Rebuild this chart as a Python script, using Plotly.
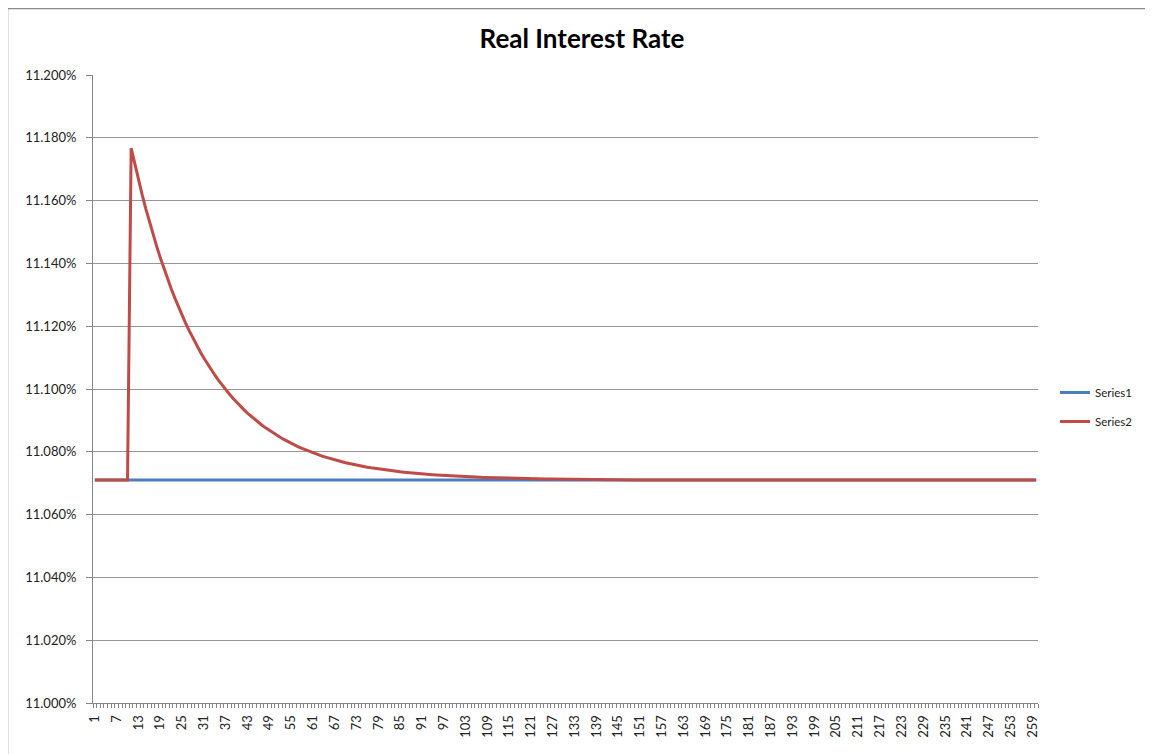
import plotly.graph_objects as go

# ---- data (percent) ----
periods = list(range(1, 261))

series1 = [
    11.0710, 11.0710, 11.0710, 11.0710, 11.0710, 11.0710, 11.0710, 11.0710, 11.0710, 11.0710,
    11.0710, 11.0710, 11.0710, 11.0710, 11.0710, 11.0710, 11.0710, 11.0710, 11.0710, 11.0710,
    11.0710, 11.0710, 11.0710, 11.0710, 11.0710, 11.0710, 11.0710, 11.0710, 11.0710, 11.0710,
    11.0710, 11.0710, 11.0710, 11.0710, 11.0710, 11.0710, 11.0710, 11.0710, 11.0710, 11.0710,
    11.0710, 11.0710, 11.0710, 11.0710, 11.0710, 11.0710, 11.0710, 11.0710, 11.0710, 11.0710,
    11.0710, 11.0710, 11.0710, 11.0710, 11.0710, 11.0710, 11.0710, 11.0710, 11.0710, 11.0710,
    11.0710, 11.0710, 11.0710, 11.0710, 11.0710, 11.0710, 11.0710, 11.0710, 11.0710, 11.0710,
    11.0710, 11.0710, 11.0710, 11.0710, 11.0710, 11.0710, 11.0710, 11.0710, 11.0710, 11.0710,
    11.0710, 11.0710, 11.0710, 11.0710, 11.0710, 11.0710, 11.0710, 11.0710, 11.0710, 11.0710,
    11.0710, 11.0710, 11.0710, 11.0710, 11.0710, 11.0710, 11.0710, 11.0710, 11.0710, 11.0710,
    11.0710, 11.0710, 11.0710, 11.0710, 11.0710, 11.0710, 11.0710, 11.0710, 11.0710, 11.0710,
    11.0710, 11.0710, 11.0710, 11.0710, 11.0710, 11.0710, 11.0710, 11.0710, 11.0710, 11.0710,
    11.0710, 11.0710, 11.0710, 11.0710, 11.0710, 11.0710, 11.0710, 11.0710, 11.0710, 11.0710,
    11.0710, 11.0710, 11.0710, 11.0710, 11.0710, 11.0710, 11.0710, 11.0710, 11.0710, 11.0710,
    11.0710, 11.0710, 11.0710, 11.0710, 11.0710, 11.0710, 11.0710, 11.0710, 11.0710, 11.0710,
    11.0710, 11.0710, 11.0710, 11.0710, 11.0710, 11.0710, 11.0710, 11.0710, 11.0710, 11.0710,
    11.0710, 11.0710, 11.0710, 11.0710, 11.0710, 11.0710, 11.0710, 11.0710, 11.0710, 11.0710,
    11.0710, 11.0710, 11.0710, 11.0710, 11.0710, 11.0710, 11.0710, 11.0710, 11.0710, 11.0710,
    11.0710, 11.0710, 11.0710, 11.0710, 11.0710, 11.0710, 11.0710, 11.0710, 11.0710, 11.0710,
    11.0710, 11.0710, 11.0710, 11.0710, 11.0710, 11.0710, 11.0710, 11.0710, 11.0710, 11.0710,
    11.0710, 11.0710, 11.0710, 11.0710, 11.0710, 11.0710, 11.0710, 11.0710, 11.0710, 11.0710,
    11.0710, 11.0710, 11.0710, 11.0710, 11.0710, 11.0710, 11.0710, 11.0710, 11.0710, 11.0710,
    11.0710, 11.0710, 11.0710, 11.0710, 11.0710, 11.0710, 11.0710, 11.0710, 11.0710, 11.0710,
    11.0710, 11.0710, 11.0710, 11.0710, 11.0710, 11.0710, 11.0710, 11.0710, 11.0710, 11.0710,
    11.0710, 11.0710, 11.0710, 11.0710, 11.0710, 11.0710, 11.0710, 11.0710, 11.0710, 11.0710,
    11.0710, 11.0710, 11.0710, 11.0710, 11.0710, 11.0710, 11.0710, 11.0710, 11.0710, 11.0710,
]

series2 = [
    11.07100, 11.07100, 11.07100, 11.07100, 11.07100, 11.07100, 11.07100, 11.07100, 11.07100, 11.07100,
    11.17670, 11.17154, 11.16664, 11.16198, 11.15754, 11.15332, 11.14930, 11.14549, 11.14185, 11.13840,
    11.13511, 11.13198, 11.12901, 11.12618, 11.12349, 11.12093, 11.11849, 11.11618, 11.11397, 11.11188,
    11.10989, 11.10799, 11.10618, 11.10447, 11.10284, 11.10128, 11.09981, 11.09840, 11.09707, 11.09579,
    11.09458, 11.09343, 11.09234, 11.09130, 11.09031, 11.08937, 11.08847, 11.08762, 11.08681, 11.08604,
    11.08531, 11.08461, 11.08394, 11.08331, 11.08271, 11.08214, 11.08160, 11.08108, 11.08059, 11.08012,
    11.07968, 11.07925, 11.07885, 11.07847, 11.07810, 11.07776, 11.07743, 11.07711, 11.07682, 11.07653,
    11.07626, 11.07601, 11.07576, 11.07553, 11.07531, 11.07510, 11.07490, 11.07471, 11.07453, 11.07436,
    11.07419, 11.07404, 11.07389, 11.07375, 11.07361, 11.07349, 11.07336, 11.07325, 11.07314, 11.07304,
    11.07294, 11.07284, 11.07275, 11.07267, 11.07259, 11.07251, 11.07243, 11.07236, 11.07230, 11.07223,
    11.07217, 11.07212, 11.07206, 11.07201, 11.07196, 11.07191, 11.07187, 11.07183, 11.07179, 11.07175,
    11.07171, 11.07168, 11.07164, 11.07161, 11.07158, 11.07155, 11.07153, 11.07150, 11.07148, 11.07145,
    11.07143, 11.07141, 11.07139, 11.07137, 11.07135, 11.07134, 11.07132, 11.07130, 11.07129, 11.07128,
    11.07126, 11.07125, 11.07124, 11.07123, 11.07122, 11.07121, 11.07120, 11.07119, 11.07118, 11.07100,
    11.07100, 11.07100, 11.07100, 11.07100, 11.07100, 11.07100, 11.07100, 11.07100, 11.07100, 11.07100,
    11.07100, 11.07100, 11.07100, 11.07100, 11.07100, 11.07100, 11.07100, 11.07100, 11.07100, 11.07100,
    11.07100, 11.07100, 11.07100, 11.07100, 11.07100, 11.07100, 11.07100, 11.07100, 11.07100, 11.07100,
    11.07100, 11.07100, 11.07100, 11.07100, 11.07100, 11.07100, 11.07100, 11.07100, 11.07100, 11.07100,
    11.07100, 11.07100, 11.07100, 11.07100, 11.07100, 11.07100, 11.07100, 11.07100, 11.07100, 11.07100,
    11.07100, 11.07100, 11.07100, 11.07100, 11.07100, 11.07100, 11.07100, 11.07100, 11.07100, 11.07100,
    11.07100, 11.07100, 11.07100, 11.07100, 11.07100, 11.07100, 11.07100, 11.07100, 11.07100, 11.07100,
    11.07100, 11.07100, 11.07100, 11.07100, 11.07100, 11.07100, 11.07100, 11.07100, 11.07100, 11.07100,
    11.07100, 11.07100, 11.07100, 11.07100, 11.07100, 11.07100, 11.07100, 11.07100, 11.07100, 11.07100,
    11.07100, 11.07100, 11.07100, 11.07100, 11.07100, 11.07100, 11.07100, 11.07100, 11.07100, 11.07100,
    11.07100, 11.07100, 11.07100, 11.07100, 11.07100, 11.07100, 11.07100, 11.07100, 11.07100, 11.07100,
    11.07100, 11.07100, 11.07100, 11.07100, 11.07100, 11.07100, 11.07100, 11.07100, 11.07100, 11.07100,
]

series_names = ["Series1", "Series2"]
series_colors = ["#4A7EBB", "#BE4B48"]
title_text = "Real Interest Rate"

FONT = "Lato, 'Open Sans', sans-serif"

fig = go.Figure()
for name, vals, col, grp in zip(series_names, [series1, series2], series_colors, ["a", "b"]):
    fig.add_trace(go.Scatter(
        x=periods, y=vals, mode="lines", name=name, legendgroup=grp,
        line=dict(color=col, width=3),
    ))

# page is shown with an 8px body margin, so figure coords = screen coords - 8
OFF = 8
W, H = 1153, 754
L, R, T, B = 93 - OFF, W - (1038 - OFF), 75 - OFF, H - (703 - OFF)
pw, ph = W - L - R, H - T - B

def px_x(x):  # screen x -> paper x
    return (x - OFF - L) / pw

def px_y(y):  # screen y -> paper y
    return (H - B - (y - OFF)) / ph

fig.update_layout(
    width=W, height=H,
    margin=dict(l=L, r=R, t=T, b=B),
    paper_bgcolor="white", plot_bgcolor="white",
    font=dict(family=FONT, size=12, color="#222"),
    title=dict(text="<b>" + title_text + "</b>", x=(582 - OFF) / W, xref="container", xanchor="center",
               y=1 - (39 - OFF) / H, yref="container", yanchor="middle",
               font=dict(family=FONT, size=26, color="#000")),
    showlegend=True,
    legend=dict(x=px_x(1055), xanchor="left", y=px_y(407), yanchor="middle",
                font=dict(family=FONT, size=11.5, color="#222"),
                tracegroupgap=10, itemwidth=30, bgcolor="rgba(0,0,0,0)"),
    xaxis=dict(
        range=[0.5, 260.5], tickmode="linear", tick0=1, dtick=6,
        tickangle=-90, ticks="", showgrid=False, zeroline=False,
        showline=True, linecolor="#868686", linewidth=1,
        ticklabelstandoff=6,
        tickfont=dict(family=FONT, size=13, color="#222"),
        minor=dict(tickmode="linear", tick0=0.5, dtick=1, ticks="outside",
                   ticklen=4, tickcolor="#868686", tickwidth=1, showgrid=False),
    ),
    yaxis=dict(
        range=[11.0, 11.2], tickmode="linear", tick0=11.0, dtick=0.02,
        tickformat=".3f", ticksuffix="%", ticks="outside", ticklen=6,
        ticklabelstandoff=7,
        tickcolor="#868686", showgrid=True, gridcolor="#969696", gridwidth=1,
        zeroline=False, showline=True, linecolor="#868686", linewidth=1,
        tickfont=dict(family=FONT, size=13, color="#222"),
    ),
    shapes=[
        dict(type="line", xref="paper", yref="paper",
             x0=px_x(7.5), x1=px_x(W + 20), y0=px_y(8.5), y1=px_y(8.5),
             line=dict(color="#8a8a8a", width=1.5)),
        dict(type="line", xref="paper", yref="paper",
             x0=px_x(7.5), x1=px_x(7.5), y0=px_y(8.5), y1=px_y(H + 20),
             line=dict(color="#8a8a8a", width=1.5)),
    ],
)

fig.write_html("out.html")
